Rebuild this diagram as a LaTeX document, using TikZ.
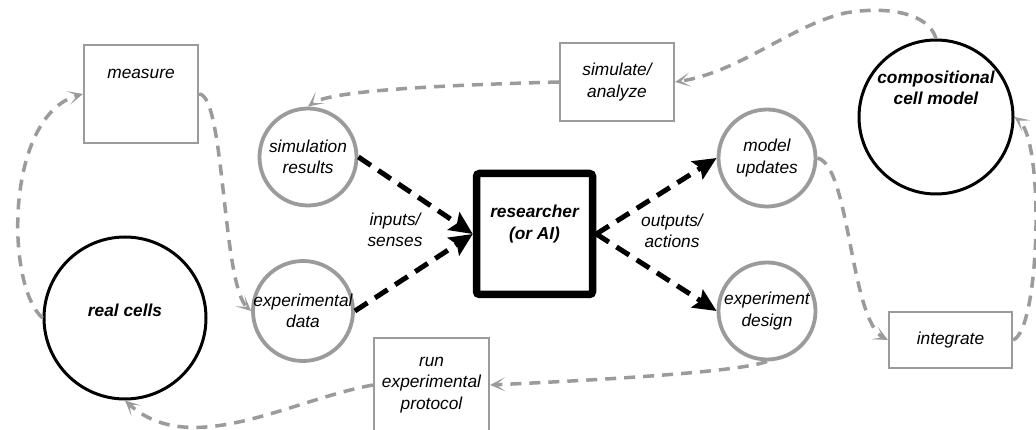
\documentclass[tikz,border=0pt]{standalone}
\usepackage{fontspec}
\setmainfont{Liberation Sans}
\usetikzlibrary{arrows.meta}

\definecolor{linegray}{RGB}{155,155,155}
\newcommand\diagfont{\fontsize{17.3}{21.5}\selectfont\itshape}
\newcommand\diagbold{\fontsize{17.3}{21.5}\selectfont\bfseries\itshape}

\begin{document}
\begin{tikzpicture}[x=1pt, y=-1pt, font=\diagfont,
        every label/.style={align=center, inner sep=0pt},
        grayball/.style={circle, draw=linegray, line width=3.8pt, minimum size=97pt, inner sep=0pt},
        blackball/.style={circle, draw=black, line width=3pt, inner sep=0pt},
        graybox/.style={rectangle, draw=linegray, line width=2.2pt, inner sep=0pt, align=center},
        feedback/.style={draw=linegray, line width=3.5pt, dash pattern=on 11pt off 8pt,
            -{Stealth[length=15pt, width=14pt, inset=9pt]}},
        info/.style={draw=black, line width=5pt, dash pattern=on 15pt off 9pt,
            -{Stealth[length=23pt, width=21pt, inset=4pt]}}]
            \path[use as bounding box, fill=white] (0,0) rectangle (1036,430);

            \node[grayball, label={center:simulation\\results}] (simres) at (308,157) {};
            \node[grayball, minimum size=100pt, label={center:experimental\\data}] (expdata) at (303,311) {};
            \node[grayball, label={center:model\\updates}] (modupd) at (767,158) {};
            \node[grayball, label={center:experiment\\design}] (expdes) at (767,311) {};
            \node[blackball, minimum size=162pt, label={[font=\diagbold, yshift=8pt]center:real cells}] (realcells) at (125,318) {};
            \node[blackball, minimum size=154pt, label={[font=\diagbold, yshift=29pt]center:compositional\\cell model}] (cellmod) at (936,117) {};
            \node[draw, line width=7.5pt, rounded corners=3pt, minimum width=116pt, minimum height=121pt,
                label={[font=\diagbold, yshift=10pt]center:researcher\\(or AI)}] (researcher) at (534.5,234) {};

            \node[graybox, minimum width=114pt, minimum height=98pt, label={[yshift=20pt]center:measure}] (measure) at (141,94) {};
            \node[graybox, minimum width=114pt, minimum height=78pt] (simulate) at (617,82) {simulate/\\analyze};
            \node[graybox, minimum width=115pt, minimum height=94pt] (runprot) at (431.5,385) {run\\experimental\\protocol};
            \node[graybox, minimum width=123pt, minimum height=56pt] (integrate) at (950.5,340) {integrate};

            \node[align=center] (inputs) at (395,230) {inputs/\\senses};
            \node[align=center] (outputs) at (672,231) {outputs/\\actions};

            \draw[info] (simres.east) -- (researcher.west);
            \draw[info] (expdata.east) -- (researcher.west);
            \draw[info] (researcher.east) -- (modupd.west);
            \draw[info] (researcher.east) -- (expdes.west);

            \draw[feedback] (cellmod.north) .. controls (928,12) and (885,6) .. (845,13)
                .. controls (790,26) and (740,72) .. (simulate.east);
            \draw[feedback] (simulate.west) .. controls (450,85) and (330,90) .. (simres.north);
            \draw[feedback] (measure.east) .. controls (225,95) and (222,285) .. (expdata.west);
            \draw[feedback] (realcells.west) .. controls (5,285) and (5,115) .. (measure.west);
            \draw[feedback] (runprot.west) .. controls (290,400) and (190,460) .. (realcells.south);
            \draw[feedback] (expdes.south) .. controls (740,372) and (600,380) .. (runprot.east);
            \draw[feedback] (modupd.east) .. controls (850,165) and (850,320) .. (integrate.west);
            \draw[feedback] (integrate.east) .. controls (1040,330) and (1045,140) .. (cellmod.east);
        \end{tikzpicture}
\end{document}
